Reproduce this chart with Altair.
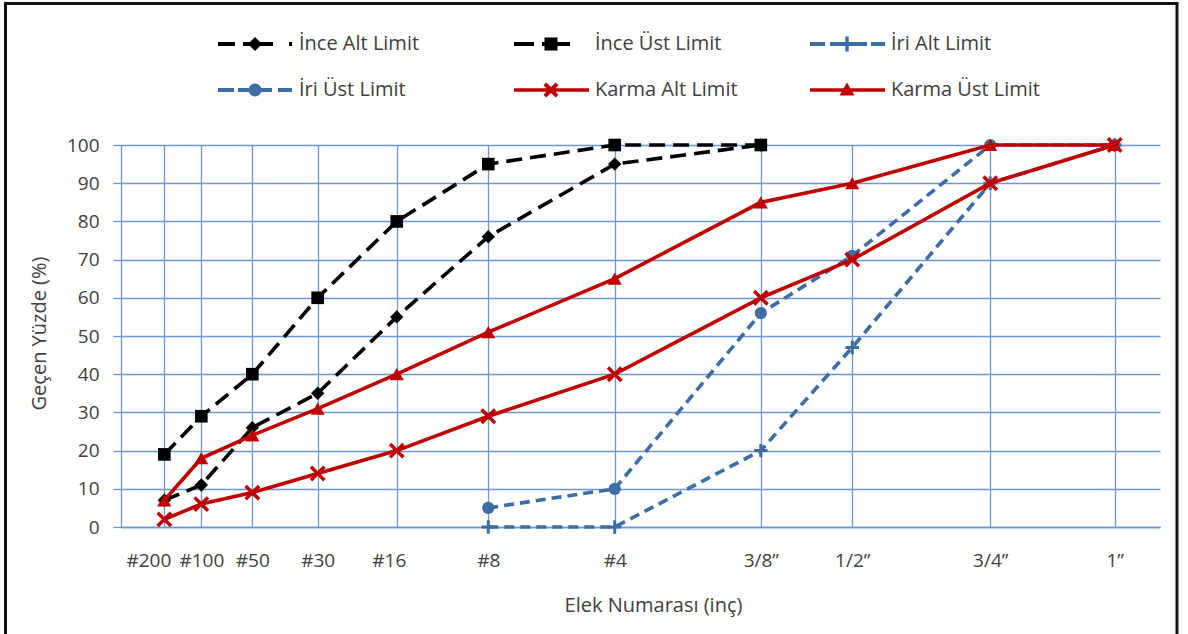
import json
import math
import altair as alt
import pandas as pd

# ---------------- data ----------------
elek = ["#200", "#100", "#50", "#30", "#16", "#8", "#4", "3/8”", "1/2”", "3/4”", "1”"]
konum = [4.17, 7.73, 12.64, 18.93, 26.54, 35.35, 47.52, 61.58, 70.38, 83.66, 95.64]

ince_alt = [7, 11, 26, 35, 55, 76, 95, 100, None, None, None]
ince_ust = [19, 29, 40, 60, 80, 95, 100, 100, None, None, None]
iri_alt = [None, None, None, None, None, 0, 0, 20, 47, 90, 100]
iri_ust = [None, None, None, None, None, 5, 10, 56, 71, 100, 100]
karma_alt = [2, 6, 9, 14, 20, 29, 40, 60, 70, 90, 100]
karma_ust = [7, 18, 24, 31, 40, 51, 65, 85, 90, 100, 100]

seriler = ["İnce Alt Limit", "İnce Üst Limit", "İri Alt Limit",
           "İri Üst Limit", "Karma Alt Limit", "Karma Üst Limit"]
degerler = [ince_alt, ince_ust, iri_alt, iri_ust, karma_alt, karma_ust]

# legend entries are laid out column by column (2 rows x 3 columns)
lejant_sirasi = ["İnce Alt Limit", "İri Üst Limit", "İnce Üst Limit",
                 "Karma Alt Limit", "İri Alt Limit", "Karma Üst Limit"]

rows = []
for s, vals in zip(seriler, degerler):
    for e, k, v in zip(elek, konum, vals):
        if v is not None:
            rows.append({"seri": s, "elek": e, "konum": k, "yuzde": v})
df = pd.DataFrame(rows)

# ---------------- styles ----------------
FONT = "Open Sans"
TEXT = "#404040"
SIYAH = "#000000"
MAVI = "#3E6DA6"
KIRMIZI = "#C00000"
IZGARA = "#6C97D4"

PLUS_PATH = "M-1,0H1M0,-1V1"
X_PATH = "M-1,-1L1,1M-1,1L1,-1"

stil = {
    "İnce Alt Limit": dict(color=SIYAH, dash=[16, 8], shape="diamond", size=180, filled=True, sw=1),
    "İnce Üst Limit": dict(color=SIYAH, dash=[16, 8], shape="square", size=160, filled=True, sw=1),
    "İri Alt Limit": dict(color=MAVI, dash=[10, 6], shape=PLUS_PATH, size=180, filled=False, sw=3),
    "İri Üst Limit": dict(color=MAVI, dash=[10, 6], shape="circle", size=150, filled=True, sw=1),
    "Karma Alt Limit": dict(color=KIRMIZI, dash=None, shape=X_PATH, size=180, filled=False, sw=3.5),
    "Karma Üst Limit": dict(color=KIRMIZI, dash=None, shape="triangle-up", size=200, filled=True, sw=1),
}

# ---------------- legend symbol paths (filled polygons) ----------------
R = 22.0  # half of legend symbol box (px)


def _u(x, y):
    return ((x - R) / R, y / R)


def poly(pts):
    p = [_u(x, y) for x, y in pts]
    area = sum(x1 * y2 - x2 * y1 for (x1, y1), (x2, y2) in zip(p, p[1:] + p[:1]))
    if area < 0:
        p = p[::-1]
    return "M" + "L".join(f"{x:.3f},{y:.3f}" for x, y in p) + "Z"


def dash(x1, x2, h=2.0):
    return poly([(x1, -h), (x2, -h), (x2, h), (x1, h)])


MX = 37.0


def diamond(h=7.0):
    return poly([(MX - h, 0), (MX, -h), (MX + h, 0), (MX, h)])


def square(h=6.5):
    return poly([(MX - h, -h), (MX + h, -h), (MX + h, h), (MX - h, h)])


def circle(r=6.5, n=28):
    return poly([(MX + r * math.cos(2 * math.pi * i / n), r * math.sin(2 * math.pi * i / n)) for i in range(n)])


def plus(a=7.5, t=1.7):
    return poly([(MX - a, -t), (MX - t, -t), (MX - t, -a), (MX + t, -a), (MX + t, -t), (MX + a, -t),
                 (MX + a, t), (MX + t, t), (MX + t, a), (MX - t, a), (MX - t, t), (MX - a, t)])


def xmark(L=8.6, T=2.0):
    out = ""
    for d, n in [((1, 1), (1, -1)), ((1, -1), (1, 1))]:
        dx, dy = d[0] / math.sqrt(2), d[1] / math.sqrt(2)
        nx, ny = n[0] / math.sqrt(2), n[1] / math.sqrt(2)
        pts = [(MX + sL * L * dx + sT * T * nx, sL * L * dy + sT * T * ny)
               for sL, sT in [(-1, -1), (1, -1), (1, 1), (-1, 1)]]
        out += poly(pts)
    return out


def triangle():
    return poly([(MX - 7.5, 5.5), (MX + 7.5, 5.5), (MX, -7.5)])


lejant_yolu = {
    "İnce Alt Limit": dash(0, 17) + dash(25, 55) + dash(71, 74) + diamond(),
    "İnce Üst Limit": dash(0, 20) + dash(28, 56) + square(),
    "İri Alt Limit": dash(0, 15) + dash(20, 57) + dash(61, 75) + plus(),
    "İri Üst Limit": dash(0, 16) + dash(20, 54) + dash(60, 74) + circle(),
    "Karma Alt Limit": dash(0, 75, 1.8) + xmark(),
    "Karma Üst Limit": dash(0, 75, 1.8) + triangle(),
}
lejant_yollari = [lejant_yolu[s] for s in lejant_sirasi]
renkler = [stil[s]["color"] for s in lejant_sirasi]

# ---------------- axes ----------------
label_expr = f"{json.dumps(elek, ensure_ascii=False)}[indexof({json.dumps(konum)}, datum.value)]"

xaxis = alt.Axis(
    values=konum, labelExpr=label_expr, title="Elek Numarası (inç)",
    grid=True, gridColor=IZGARA, gridWidth=1.3,
    domainColor=IZGARA, domainWidth=1.3, ticks=False,
    labelPadding=33, labelBaseline="middle", labelFont=FONT, labelFontSize=19,
    labelColor=TEXT, labelOverlap=False, labelFlush=False,
    labelOffset={"condition": [{"test": "datum.value < 5", "value": -16},
                               {"test": "datum.value > 26 && datum.value < 27", "value": -8}],
                 "value": 0},
    titleFont=FONT, titleFontSize=20, titleFontWeight="normal", titleColor=TEXT,
    titleX=532, titleY=78, titleBaseline="middle",
)
yaxis = alt.Axis(
    values=list(range(0, 101, 10)), title="Geçen Yüzde (%)",
    grid=True, gridColor=IZGARA, gridWidth=1.3,
    domainColor=IZGARA, domainWidth=1.3, tickColor=IZGARA, tickSize=8, tickWidth=1.3,
    labelPadding=14, labelFont=FONT, labelFontSize=19, labelColor=TEXT,
    titleFont=FONT, titleFontSize=20, titleFontWeight="normal", titleColor=TEXT,
    titleX=-82, titleY=188, titleBaseline="middle",
)

X = alt.X("konum:Q", scale=alt.Scale(domain=[0, 100]), axis=xaxis)
Y = alt.Y("yuzde:Q", scale=alt.Scale(domain=[0, 100]), axis=yaxis)

# ---------------- layers ----------------
layers = []
base = alt.Chart(df)
for s in seriler:
    st = stil[s]
    line_kw = dict(color=st["color"], strokeWidth=3.6)
    if st["dash"]:
        line_kw["strokeDash"] = st["dash"]
    layers.append(base.transform_filter(alt.datum.seri == s).mark_line(**line_kw).encode(x=X, y=Y))
    layers.append(base.transform_filter(alt.datum.seri == s).mark_point(
        shape=st["shape"], size=st["size"], filled=st["filled"], color=st["color"],
        strokeWidth=st["sw"], opacity=1).encode(x=X, y=Y))

leg = alt.Legend(
    title=None, orient="none", legendX=97, legendY=-123, columns=3,
    symbolSize=(2 * R) ** 2, symbolStrokeWidth=0, labelOffset=81 - 2 * R,
    labelFont=FONT, labelFontSize=20, labelColor=TEXT, labelLimit=400,
    columnPadding=66, rowPadding=14, gridAlign="all", padding=0,
)
legend_layer = base.transform_filter("false").mark_point(filled=True, opacity=1).encode(
    x=X, y=Y,
    color=alt.Color("seri:N", scale=alt.Scale(domain=lejant_sirasi, range=renkler), legend=leg),
    shape=alt.Shape("seri:N", scale=alt.Scale(domain=lejant_sirasi, range=lejant_yollari), legend=leg),
)

frame = alt.Chart(alt.Data(values=[{"k": 0}])).mark_rect(
    fill="transparent", stroke="#111111", strokeWidth=3
).encode(x=alt.value(-115.5), x2=alt.value(1056), y=alt.value(-141.5), y2=alt.value(560))

chart = alt.layer(*layers, legend_layer, frame).properties(
    width=1039, height=382,
    padding={"left": 121, "top": 145, "right": 28, "bottom": 107},
    autosize=alt.AutoSizeParams(type="none"),
    background="white",
).configure_view(strokeWidth=0)

chart.save("out.html", embed_options={"renderer": "svg", "actions": False})
